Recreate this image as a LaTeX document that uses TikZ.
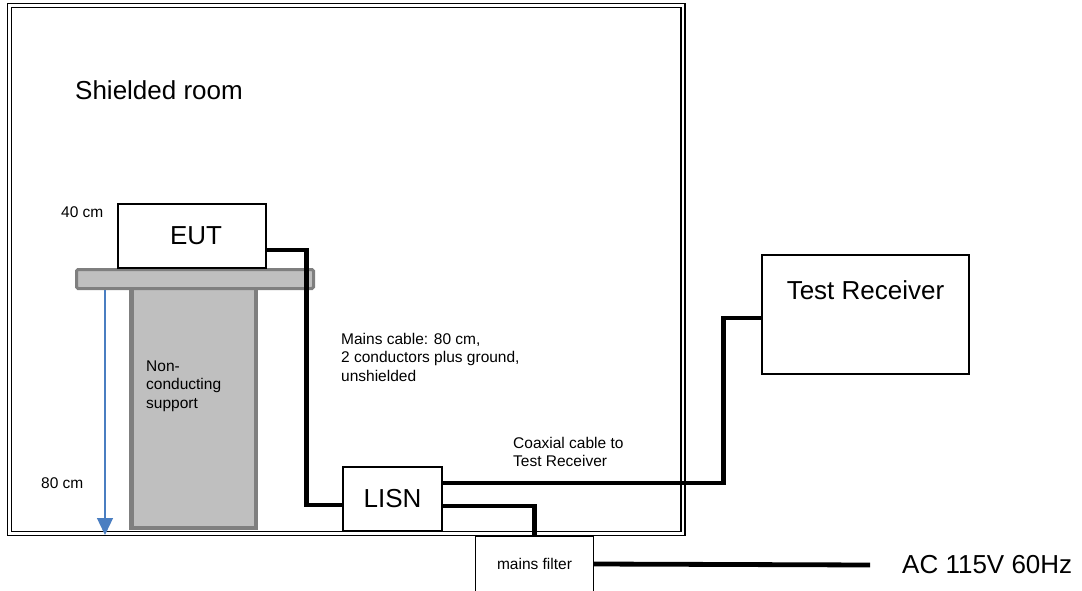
\documentclass[tikz,border=0pt]{standalone}
\usepackage{fontspec}
\setmainfont{Liberation Sans}
\usetikzlibrary{arrows.meta,positioning}
\definecolor{support}{RGB}{191,191,191}
\definecolor{supportedge}{RGB}{127,127,127}
\definecolor{dimblue}{RGB}{74,126,193}

\begin{document}
\begin{tikzpicture}[x=1pt, y=-1pt,
    box/.style={draw, line width=1.4pt, fill=white, inner sep=0pt, font=\fontsize{26}{30}\selectfont},
    cable/.style={line width=4.8pt},
    note/.style={align=left, inner sep=0pt, font=\fontsize{15.5}{18.5}\selectfont},
    big/.style={inner sep=0pt, font=\fontsize{26}{30}\selectfont}]
  \useasboundingbox (0,0) rectangle (1082,591);

  % Shielded room
  \draw[line width=1.4pt, double, double distance=2.8pt] (9.5,5.5) rectangle (683,533.5);
  \node[big, anchor=west] (room) at (75,90) {Shielded room};

  % Table and support
  \draw[fill=support, draw=supportedge, line width=4.5pt] (131.25,288) rectangle (255.75,527.75);
  \draw[fill=support, draw=supportedge, line width=3pt, rounded corners=1.5pt] (76.5,269.5) rectangle (313.5,288.5);
  \node[note, anchor=west] (nc) at (146,386) {Non-\\conducting\\support};

  % Heights
  \node[note, anchor=west] (h40) at (61,212) {40 cm};
  \node[note, anchor=west] (h80) at (41,483) {80 cm};
  \coordinate (dimtop) at (105,290);
  \coordinate (dimbot) at (105,535);
  \draw[dimblue, line width=1.3pt, -{Triangle[length=17pt, width=16pt]}] (dimtop) -- (dimbot);

  % Equipment
  \node[box, minimum width=148pt, minimum height=64pt] (eut) at (192,236) {\hspace{8pt}EUT};
  \node[box, minimum width=99pt, minimum height=64pt] (lisn) at (392.5,499) {LISN};
  \node[box, minimum width=207pt, text height=44pt, text depth=75pt] (rx) at (865.5,314.5) {Test Receiver};
  \node[note, minimum width=117pt, minimum height=54pt] (filter) at (534.5,564) {mains filter};
  \draw[line width=1.2pt] (filter.south west) |- (filter.north east) -- (filter.south east);
  \node[big, anchor=west] (ac) at (902,565) {AC 115V 60Hz};

  % Cables
  \draw[cable] ([yshift=-14pt]eut.east) -- ++(40,0) |- ([yshift=-6pt]lisn.west);
  \draw[cable] ([yshift=16pt]lisn.east) -- ++(281,0) |- ([yshift=-3.5pt]rx.west);
  \draw[cable] ([yshift=-7pt]lisn.east) -| (filter.north);
  \draw[cable] (filter.east) -- ([xshift=-32pt]ac.west);

  \node[note, anchor=west] (mains) at (341,357) {Mains cable: 80 cm,\\2 conductors plus ground,\\unshielded};
  \node[note, anchor=west] (coax) at (513,452) {Coaxial cable to\\Test Receiver};
\end{tikzpicture}
\end{document}
